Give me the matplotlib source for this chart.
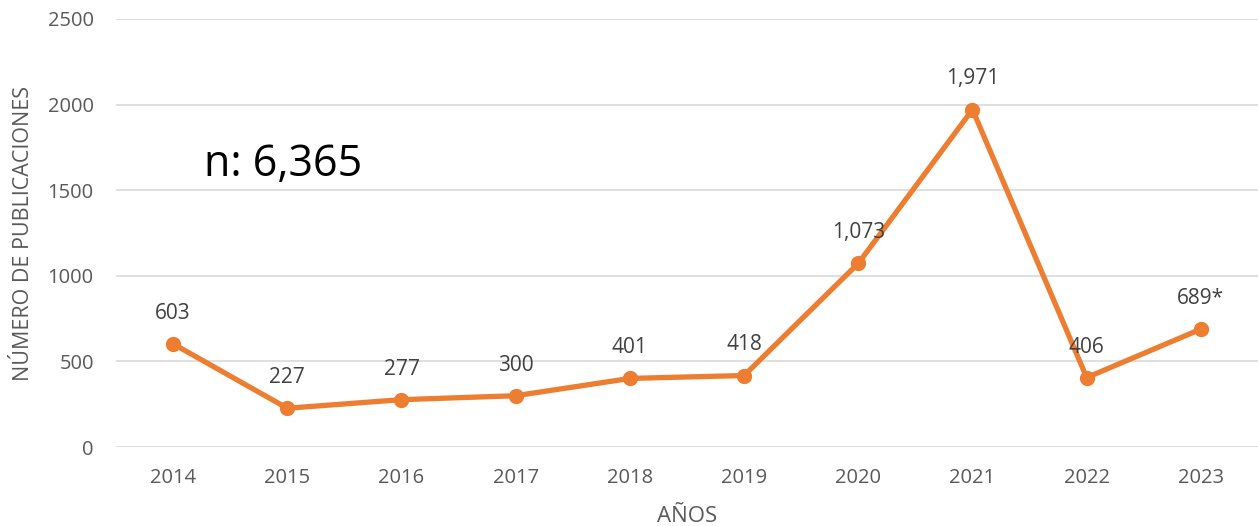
import matplotlib.pyplot as plt
import numpy as np

years = ["2014", "2015", "2016", "2017", "2018", "2019", "2020", "2021", "2022", "2023"]
publicaciones = [603, 227, 277, 300, 401, 418, 1073, 1971, 406, 689]
etiquetas = ["603", "227", "277", "300", "401", "418", "1,073", "1,971", "406", "689*"]
yticks = [0, 500, 1000, 1500, 2000, 2500]

plt.rcParams['font.family'] = ['Open Sans', 'DejaVu Sans']

linecolor = "#ED7D31"
gray = "#595959"

fig = plt.figure(figsize=(12.58, 5.26), dpi=100)
ax = fig.add_axes([0.0922, 0.150, 0.9078, 0.814])

x = np.arange(len(years))
ax.plot(x, publicaciones, color=linecolor, linewidth=3.8, marker="o", markersize=10,
        solid_joinstyle="round", zorder=3)

for xi, yi, lab in zip(x, publicaciones, etiquetas):
    ax.annotate(lab, (xi, yi), xytext=(0, 22), textcoords="offset points",
                ha="center", va="center", fontsize=15, color="#404040")

ax.set_xlim(-0.5, len(years) - 0.5)
ax.set_ylim(0, 2500)
ax.set_xticks(x)
ax.set_xticklabels(years)
ax.set_yticks(yticks)
ax.grid(axis="y", color="#dcdcdc", linewidth=1.3, zorder=0)
ax.set_axisbelow(True)
for s in ax.spines.values():
    s.set_visible(False)
ax.tick_params(axis="both", length=0, labelsize=14.5, colors=gray)
ax.tick_params(axis="y", pad=16)
ax.tick_params(axis="x", pad=15)

ax.set_ylabel("NÚMERO DE PUBLICACIONES", fontsize=15.5, color=gray, labelpad=10)
ax.set_xlabel("AÑOS", fontsize=16, color=gray, labelpad=13)

ax.text(0.27, 1650, "n: 6,365", fontsize=31, color="black", ha="left", va="center")

fig.savefig("out.png", dpi=100)
